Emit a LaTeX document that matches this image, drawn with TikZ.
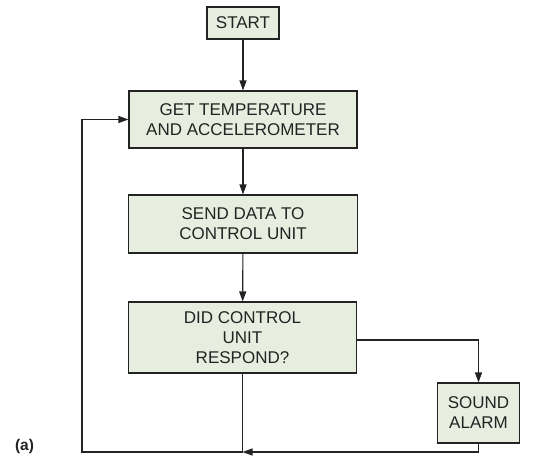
\documentclass[tikz,border=0pt]{standalone}
\usepackage{fontspec}
\setmainfont{Liberation Sans}
\usetikzlibrary{arrows.meta}
\definecolor{boxfill}{RGB}{232,238,223}
\definecolor{ink}{RGB}{35,35,35}
\tikzset{
  stepbox/.style={draw=ink, line width=1.1pt, fill=boxfill, text=ink,
    align=center, inner sep=0pt, font=\fontsize{17}{20}\selectfont},
  flow/.style={draw=ink, line width=1.1pt, -{Triangle[length=10pt,width=7pt]}},
  plain/.style={draw=ink, line width=1.1pt}
}
\begin{document}
\begin{tikzpicture}[x=1pt,y=-1pt]
  \useasboundingbox (0,0) rectangle (554,455);

  % process boxes
  \node[stepbox, minimum width=72pt, minimum height=32pt] (start) at (243,23) {START};
  \node[stepbox, minimum width=228pt, minimum height=57pt] (get) at (243,119.5)
    {GET TEMPERATURE\\AND ACCELEROMETER};
  \node[stepbox, minimum width=229pt, minimum height=58pt] (send) at (243,224)
    {SEND DATA TO\\CONTROL UNIT};
  \node[stepbox, minimum width=228pt, minimum height=71pt] (did) at (242.5,337.5)
    {DID CONTROL\\UNIT\\RESPOND?};
  \node[stepbox, minimum width=82pt, minimum height=60pt] (alarm) at (478.5,413)
    {SOUND\\ALARM};

  % caption
  \node[font=\bfseries\fontsize{15.5}{18}\selectfont, text=ink] (cap) at (24.5,446) {(a)};

  % helper points of the loops
  \coordinate (join) at (242.5,452);
  \coordinate (cornerL) at (82,452);
  \coordinate (cornerR) at (478.5,340);

  % main flow
  \draw[flow] (start) -- (get);
  \draw[flow] (get) -- (send);
  \draw[flow] (send) -- (did);

  % no response: sound the alarm
  \draw[flow] (did.east |- cornerR) -- (cornerR) -- (alarm.north);

  % return paths
  \draw[flow] (alarm.south) |- (join);
  \draw[flow] (did.south) -- (join) -- (cornerL) |- (get.west);
\end{tikzpicture}
\end{document}
